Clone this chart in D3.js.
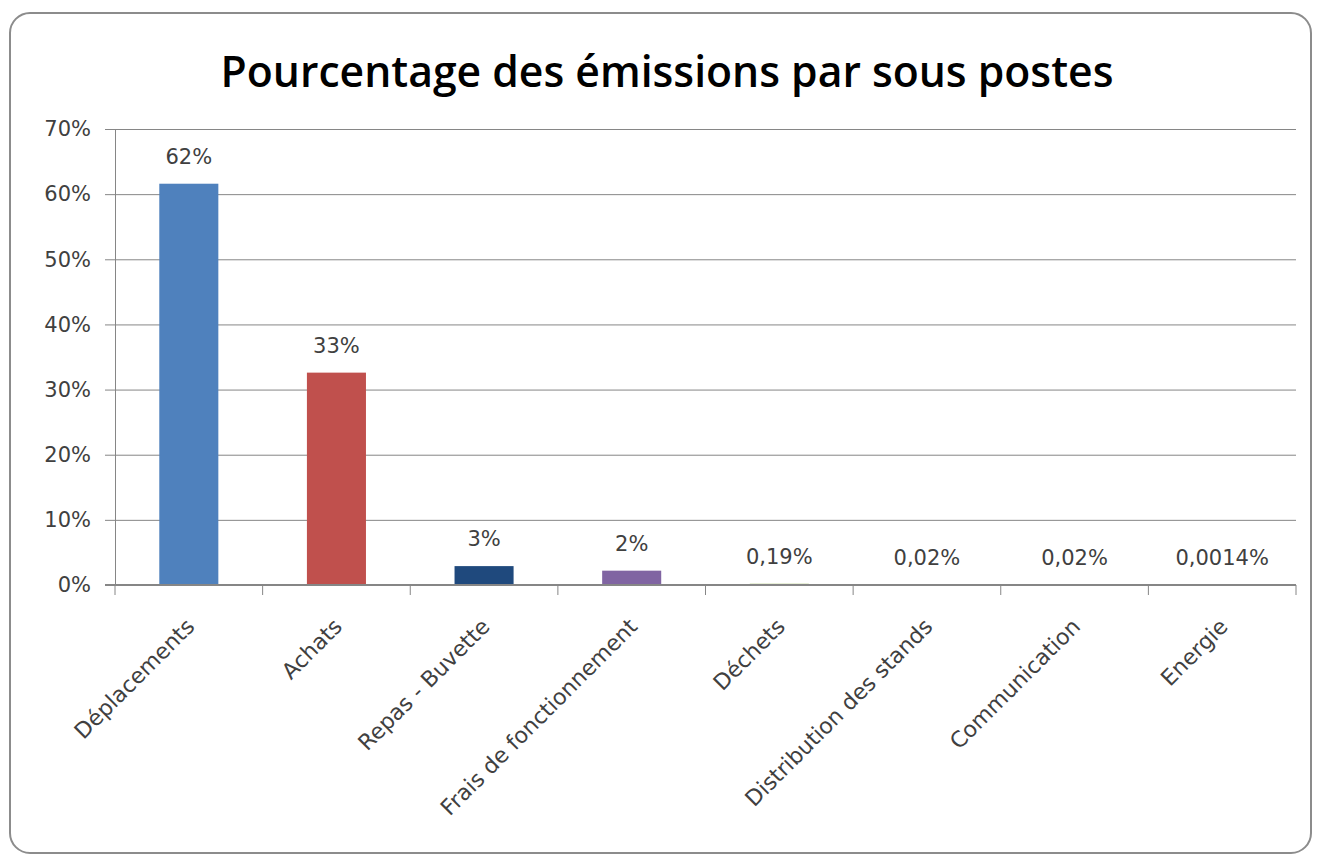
<!DOCTYPE html>
<html>
<head>
  <meta charset="UTF-8">
  <title>Pourcentage des émissions par sous postes</title>
  <style>
    body { margin: 0; background: #fff; }
    .tick text, .label, .cat { font-family: "DejaVu Sans", "Liberation Sans", sans-serif; fill: #404040; }
    .tick text { font-size: 21px; }
    .label { font-size: 21px; }
    .cat { font-size: 22px; }
    .title { font-family: "Open Sans", sans-serif; font-weight: 600; fill: #000; }
  </style>
</head>
<body>
  <svg></svg>
  <script src="https://d3js.org/d3.v7.min.js"></script>
  <script>
    // data
    const categories = ["Déplacements", "Achats", "Repas - Buvette", "Frais de fonctionnement",
                        "Déchets", "Distribution des stands", "Communication", "Energie"];
    const values = [61.6, 32.6, 2.9, 2.2, 0.19, 0.02, 0.02, 0.0014];
    const valueLabels = ["62%", "33%", "3%", "2%", "0,19%", "0,02%", "0,02%", "0,0014%"];
    const barColors = ["#4F81BD", "#C0504D", "#1F497D", "#8064A2", "#9BBB59", "#4BACC6", "#F79646", "#2C4D75"];
    const yTicks = [0, 10, 20, 30, 40, 50, 60, 70];
    const title = "Pourcentage des émissions par sous postes";

    let width = 1317, height = 859;
    let svg = d3.select("svg").attr("width", width).attr("height", height);

    // chart frame
    svg.append("rect")
      .attr("x", 10).attr("y", 13)
      .attr("width", 1301).attr("height", 840)
      .attr("rx", 20)
      .attr("fill", "#fff")
      .attr("stroke", "#8c8c8c")
      .attr("stroke-width", 2);

    let plot = {left: 115, right: 1296, top: 129, bottom: 585};

    let x = d3.scaleBand()
      .domain(categories)
      .range([plot.left, plot.right])
      .paddingInner(0.6)
      .paddingOuter(0.3);

    let y = d3.scaleLinear()
      .domain([0, 70])
      .range([plot.bottom, plot.top]);

    // horizontal gridlines + y axis
    let yAxis = svg.append("g")
      .attr("transform", `translate(${plot.left},0)`)
      .call(d3.axisLeft(y).tickValues(yTicks).tickFormat(d => d + "%").tickSize(10).tickPadding(14));
    yAxis.attr("font-family", null).attr("font-size", null);
    yAxis.select(".domain").attr("stroke", "#868686");
    yAxis.selectAll(".tick line").attr("stroke", "#868686");
    yAxis.selectAll(".tick")
      .append("line")
      .attr("x2", plot.right - plot.left)
      .attr("stroke", "#868686");

    // bars
    svg.append("g")
      .selectAll("rect")
      .data(values)
      .enter()
      .append("rect")
      .attr("x", (d, i) => x(categories[i]))
      .attr("y", d => y(d))
      .attr("width", x.bandwidth())
      .attr("height", d => y(0) - y(d))
      .attr("fill", (d, i) => barColors[i]);

    // x axis with ticks between categories
    let xBoundaries = d3.range(categories.length + 1).map(i => plot.left + i * (plot.right - plot.left) / categories.length);
    let xAxis = svg.append("g");
    xAxis.append("line")
      .attr("x1", plot.left - 10).attr("x2", plot.right)
      .attr("y1", y(0)).attr("y2", y(0))
      .attr("stroke", "#868686")
      .attr("stroke-width", 2);
    xAxis.selectAll(".xt")
      .data(xBoundaries)
      .enter()
      .append("line")
      .attr("x1", d => d).attr("x2", d => d)
      .attr("y1", y(0)).attr("y2", y(0) + 10)
      .attr("stroke", "#868686");

    // value labels
    svg.append("g")
      .selectAll("text")
      .data(values)
      .enter()
      .append("text")
      .attr("class", "label")
      .attr("x", (d, i) => x(categories[i]) + x.bandwidth() / 2)
      .attr("y", d => y(d) - 20)
      .attr("text-anchor", "middle")
      .text((d, i) => valueLabels[i]);

    // category labels
    svg.append("g")
      .selectAll("text")
      .data(categories)
      .enter()
      .append("text")
      .attr("class", "cat")
      .attr("text-anchor", "end")
      .attr("transform", d => `translate(${x(d) + x.bandwidth() / 2 + 7},${y(0) + 43}) rotate(-45)`)
      .text(d => d);

    // title
    let t = svg.append("text")
      .attr("class", "title")
      .attr("x", 667)
      .attr("y", 87)
      .attr("text-anchor", "middle")
      .style("font-size", "40px")
      .text(title);
    let w = t.node().getComputedTextLength();
    t.style("font-size", (40 * 893 / w) + "px");
  </script>
</body>
</html>
